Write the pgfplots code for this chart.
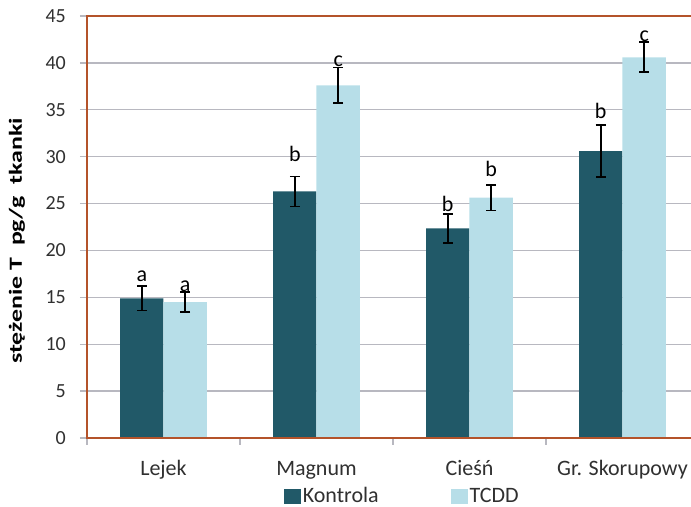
\documentclass[border=0pt]{standalone}
\usepackage{pgfplots}
\pgfplotsset{compat=1.18}
\usepackage{pgfplotstable}
\usepackage{graphicx}
\usepackage{fontspec}
\setmainfont{Carlito}
\definecolor{dteal}{HTML}{215968}
\definecolor{lblue}{HTML}{B7DEE8}
\definecolor{bordr}{HTML}{B4532A}
\definecolor{gridc}{HTML}{B8B8C0}
\definecolor{txt}{HTML}{303030}

\pgfplotstableread{
x y e d l
0 14.9 1.3 1.79 a
1 26.3 1.6 3.17 b
2 22.35 1.55 1.78 b
3 30.6 2.8 3.49 b
}\kontrola
\pgfplotstableread{
x y e d l
0 14.5 1.05 1.14 a
1 37.6 1.9 2.0 c
2 25.63 1.37 2.23 b
3 40.6 1.6 1.66 c
}\tcdd

\begin{document}
\begin{tikzpicture}
\begin{axis}[
  name=ax,
  scale only axis, width=604pt, height=422pt,
  xmin=-0.5, xmax=3.448, ymin=0, ymax=45,
  clip=false,
  ybar, bar width=0.284,
  ytick={0,5,...,45},
  ymajorgrids, grid style={gridc, line width=1.3pt},
  axis line style={draw=none},
  xtick={0,1,2,3}, xticklabels={Lejek,Magnum,Cieśń,Gr. Skorupowy},
  minor xtick={-0.5,0.5,1.5,2.5},
  major x tick style={draw=none},
  xtick pos=bottom, ytick pos=left,
  tick align=outside, tick style={gridc, line width=1.3pt},
  major tick length=7pt, minor tick length=7pt,
  /pgf/number format/assume math mode=true,
  yticklabel style={font=\fontsize{20}{23}\selectfont, text=txt, anchor=east, inner sep=0pt, xshift=-14pt},
  xticklabel style={font=\fontsize{22}{26}\selectfont, text=txt, anchor=base, yshift=-31pt},
  ylabel={\scalebox{1.4}[1]{stężenie T\ \ pg/g\ \ tkanki}},
  every axis y label/.style={at={(axis description cs:-0.1159,0.467)}, rotate=90, anchor=center,
    font=\fontsize{18.5}{22}\selectfont\bfseries, text=black},
  legend style={at={(axis description cs:0.522,-0.137)}, anchor=center, draw=none,
    font=\fontsize{22}{26}\selectfont, text=txt,
    /tikz/every even column/.append style={column sep=70pt},
    nodes={inner sep=2pt}},
  legend columns=2,
  legend image code/.code={\fill[#1] (-2pt,-8pt) rectangle (15pt,7pt);},
  visualization depends on={\thisrow{d} \as \dd},
  nodes near coords,
  point meta=explicit symbolic,
  every node near coord/.style={anchor=base, yshift=\dd*9.3778pt, font=\fontsize{22}{26}\selectfont, text=black, inner sep=0pt},
  error bars/y dir=both, error bars/y explicit,
  error bars/error bar style={black, line width=1.6pt},
  error bars/error mark options={black, line width=1.6pt, mark size=5pt, rotate=90},
]
\addplot[fill=dteal, draw=none, bar shift=-0.142,
  every node near coord/.append style={xshift=-21.7pt}] table[x=x, y=y, y error=e, meta=l]{\kontrola};
\addlegendentry{Kontrola}
\addplot[fill=lblue, draw=none, bar shift=0.142,
  every node near coord/.append style={xshift=21.7pt}] table[x=x, y=y, y error=e, meta=l]{\tcdd};
\addlegendentry{TCDD}
\draw[bordr, line width=2.6pt] (rel axis cs:1.02,1) -- (rel axis cs:0,1) -- (rel axis cs:0,0) -- (rel axis cs:1.02,0);
\end{axis}
\pgfresetboundingbox
\path ([shift={(-87pt,-69pt)}]ax.south west) rectangle ([shift={(0pt,16pt)}]ax.north east);
\end{tikzpicture}
\end{document}
